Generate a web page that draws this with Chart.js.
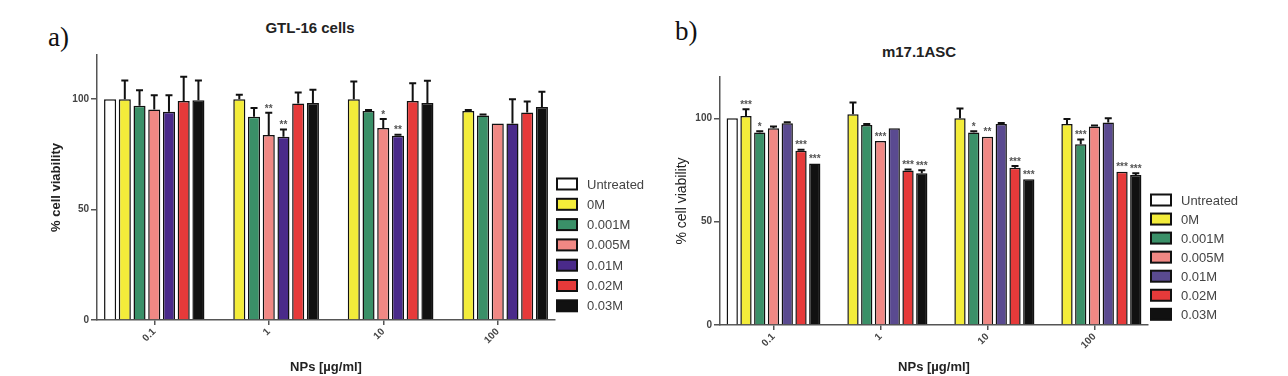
<!DOCTYPE html>
<html>
<head>
<meta charset="utf-8">
<script src="https://cdn.jsdelivr.net/npm/chart.js@4.4.1/dist/chart.umd.min.js"></script>
<style>
  body { margin: 0; width: 1288px; height: 376px; background: #fff; position: relative; overflow: hidden; font-family: "Liberation Sans", Arial, sans-serif; }
  #chartA { position: absolute; left: 0; top: 0; }
  #chartB { position: absolute; left: 640px; top: 0; }
  .tag { position: absolute; font-family: "Liberation Serif", serif; font-size: 27px; line-height: 1; color: #111; }
  .ttl { position: absolute; font-weight: bold; font-size: 15px; line-height: 16px; color: #222; transform: translateX(-50%); white-space: nowrap; }
</style>
</head>
<body>
<div class="tag" style="left:48px;top:24px">a)</div>
<div class="ttl" style="left:310px;top:20px">GTL-16 cells</div>
<div class="tag" style="left:675px;top:18px">b)</div>
<div class="ttl" style="left:919px;top:44px">m17.1ASC</div>
<canvas id="chartA" width="660" height="376"></canvas>
<canvas id="chartB" width="648" height="376"></canvas>
<script>
// 공통 카테고리 / 시리즈
const categories = ['0.1', '1', '10', '100'];
const seriesLabels = ['Untreated', '0M', '0.001M', '0.005M', '0.01M', '0.02M', '0.03M'];
const yTicks = [0, 50, 100];

// a) GTL-16 cells
const untreatedA = [100, null, null, null];
const m0A   = [100, 100, 100, 94.6];
const m001A = [97, 92, 94.6, 92.6];
const m005A = [95.3, 83.8, 87, 89];
const m01A  = [94.3, 83, 83.4, 89];
const m02A  = [99.2, 98, 99.2, 94];
const m03A  = [99.5, 98.3, 98.3, 96.4];
const errA = [
  [0, 0, 0, 0], [8.5, 2, 8, 0.5], [7, 4, 0.5, 0.5], [6.5, 10, 4, 0],
  [7.5, 3.3, 0.5, 11], [11, 5, 8, 5], [9, 6, 10, 7]
];
const starsA = [
  ['', '', '', ''], ['', '', '', ''], ['', '', '', ''], ['', '**', '*', ''],
  ['', '**', '**', ''], ['', '', '', ''], ['', '', '', '']
];

// b) m17.1ASC
const untreatedB = [100, null, null, null];
const m0B   = [101.1, 102, 100, 97.2];
const m001B = [93.2, 96.8, 93.2, 87.4];
const m005B = [95.2, 89, 91.1, 96];
const m01B  = [97.6, 95.2, 97.2, 98];
const m02B  = [84.3, 74.8, 76.1, 74.2];
const m03B  = [78.2, 73.4, 70.5, 72.6];
const errB = [
  [0, 0, 0, 0], [3.3, 5.7, 4.8, 2.5], [0.5, 0.5, 0.5, 2.4], [0.8, 0, 0, 0.5],
  [0.5, 0, 0.5, 2], [0.5, 0.5, 0.8, 0], [0, 1.5, 0, 0.8]
];
const starsB = [
  ['', '', '', ''], ['***', '', '', ''], ['*', '', '*', '***'], ['', '***', '**', ''],
  ['', '', '', ''], ['***', '***', '***', '***'], ['***', '***', '***', '***']
];

const colorsA = ['#ffffff', '#f3ec3a', '#3a9068', '#f08884', '#4a2a8a', '#e63a3a', '#111111'];
const colorsB = ['#ffffff', '#f3ec3a', '#3a9068', '#f08884', '#5a4a90', '#e63a3a', '#111111'];

// 에러바 + 유의성 별표
const errorBars = {
  id: 'errorBars',
  afterDatasetsDraw(chart) {
    const ctx = chart.ctx;
    const y = chart.scales.y;
    chart.data.datasets.forEach((ds, di) => {
      const meta = chart.getDatasetMeta(di);
      meta.data.forEach((bar, i) => {
        const v = ds.data[i];
        if (v == null) return;
        const e = ds.err[i] || 0;
        let top = bar.y;
        ctx.save();
        if (e > 0) {
          const yt = y.getPixelForValue(v + e);
          ctx.strokeStyle = '#111';
          ctx.lineWidth = 2;
          ctx.beginPath();
          ctx.moveTo(bar.x, bar.y);
          ctx.lineTo(bar.x, yt);
          ctx.moveTo(bar.x - 3.5, yt);
          ctx.lineTo(bar.x + 3.5, yt);
          ctx.stroke();
          top = yt;
        }
        const s = ds.stars[i];
        if (s) {
          ctx.fillStyle = '#555';
          ctx.font = 'bold 10px "Liberation Sans", Arial, sans-serif';
          ctx.textAlign = 'center';
          ctx.textBaseline = 'bottom';
          ctx.fillText(s, bar.x, top + 1);
        }
        ctx.restore();
      });
    });
  }
};

// 오른쪽 범례 (박스 + 라벨)
const boxLegend = {
  id: 'boxLegend',
  afterDraw(chart, args, opts) {
    const ctx = chart.ctx;
    ctx.save();
    chart.data.datasets.forEach((ds, i) => {
      const cy = opts.y + i * opts.dy;
      ctx.fillStyle = ds.backgroundColor;
      ctx.fillRect(opts.x, cy - 5.5, 20, 11);
      ctx.strokeStyle = '#111';
      ctx.lineWidth = 2;
      ctx.strokeRect(opts.x, cy - 5.5, 20, 11);
      ctx.fillStyle = '#444';
      ctx.font = '13px "Liberation Sans", Arial, sans-serif';
      ctx.textAlign = 'left';
      ctx.textBaseline = 'middle';
      ctx.fillText(ds.label, opts.x + 30, cy + 1);
    });
    ctx.restore();
  }
};

function makeChart(id, values, errs, stars, colors, cfg) {
  const datasets = seriesLabels.map((label, i) => ({
    label,
    data: values[i],
    err: errs[i],
    stars: stars[i],
    backgroundColor: colors[i],
    borderColor: '#111',
    borderWidth: 1.5,
    categoryPercentage: 0.9,
    barPercentage: 0.82
  }));

  new Chart(document.getElementById(id), {
    type: 'bar',
    data: { labels: categories, datasets },
    plugins: [errorBars, boxLegend],
    options: {
      responsive: false,
      animation: false,
      layout: { padding: cfg.padding },
      plugins: {
        legend: { display: false },
        tooltip: { enabled: false },
        boxLegend: cfg.legend
      },
      scales: {
        x: {
          afterFit: s => { s.height = cfg.xHeight; },
          border: { color: '#555', width: 1.5 },
          grid: { display: true, drawOnChartArea: false, offset: false, tickLength: 5, color: '#555', lineWidth: 1.5 },
          ticks: { minRotation: 45, maxRotation: 45, padding: 1, color: '#444', font: { size: 10, weight: 'bold', family: '"Liberation Sans", Arial' } },
          title: { display: true, text: 'NPs [µg/ml]', color: '#222', padding: { top: 0, bottom: 1 }, font: { size: 13, weight: 'bold', family: '"Liberation Sans", Arial' } }
        },
        y: {
          min: 0,
          max: 120,
          afterFit: s => { s.width = cfg.yWidth; },
          afterBuildTicks: s => { s.ticks = yTicks.map(v => ({ value: v })); },
          border: { color: '#555', width: 1.5 },
          grid: { display: true, drawOnChartArea: false, tickLength: 6, color: '#555', lineWidth: 1.5 },
          ticks: { padding: 2, color: '#444', font: { size: 10, weight: 'bold', family: '"Liberation Sans", Arial' } },
          title: { display: true, text: '% cell viability', color: '#222', padding: { top: cfg.yTitlePad, bottom: 0 }, font: { size: cfg.yTitleSize, weight: cfg.yTitleWeight, family: '"Liberation Sans", Arial' } }
        }
      }
    }
  });
}

makeChart('chartA',
  [untreatedA, m0A, m001A, m005A, m01A, m02A, m03A], errA, starsA, colorsA,
  {
    padding: { left: 45, top: 55, right: 105, bottom: 0 },
    yWidth: 52, xHeight: 56, yTitlePad: 4, yTitleSize: 13, yTitleWeight: 'bold',
    legend: { x: 557, y: 184, dy: 20.3 }
  });

makeChart('chartB',
  [untreatedB, m0B, m001B, m005B, m01B, m02B, m03B], errB, starsB, colorsB,
  {
    padding: { left: 30, top: 77, right: 140, bottom: 0 },
    yWidth: 50, xHeight: 51, yTitlePad: 4, yTitleSize: 14, yTitleWeight: 'normal',
    legend: { x: 511, y: 200, dy: 19.05 }
  });
</script>
</body>
</html>
